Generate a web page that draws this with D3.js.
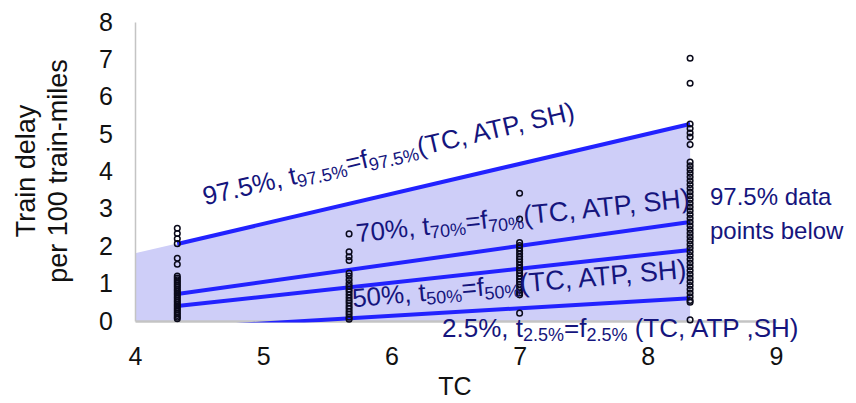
<!DOCTYPE html>
<html>
<head>
<meta charset="utf-8">
<script src="https://cdn.jsdelivr.net/npm/d3@7"></script>
<style>
  body { margin: 0; background: #fff; }
  svg { display: block; font-family: "Liberation Sans", Arial, sans-serif; }
</style>
</head>
<body>
<svg id="chart" width="856" height="403"></svg>
<script>
// TC value of each column of observations
var tcValues = [4.33, 5.67, 7.0, 8.33];

var delaysCol1 = [2.48, 2.34, 2.2, 2.07, 1.68, 1.52, 1.2, 1.15, 1.1, 1.05, 1.0, 0.95, 0.9, 0.85, 0.8, 0.75, 0.7, 0.65, 0.6, 0.55, 0.5, 0.45, 0.4, 0.35, 0.3, 0.25, 0.2, 0.15, 0.1, 0.06];
var delaysCol2 = [2.33, 1.85, 1.72, 1.62, 1.28, 1.2, 1.1, 1.0, 0.92, 0.85, 0.78, 0.7, 0.62, 0.55, 0.48, 0.4, 0.33, 0.25, 0.18, 0.1, 0.05];
var delaysCol3 = [3.42, 2.73, 2.1, 2.02, 1.95, 1.88, 1.8, 1.72, 1.65, 1.58, 1.5, 1.42, 1.35, 1.28, 1.2, 1.12, 1.05, 0.98, 0.9, 0.82, 0.75, 0.7, 0.21];
var delaysCol4 = [7.03, 6.36, 5.27, 5.15, 5.03, 4.92, 4.72, 4.25, 4.15, 4.05, 3.95, 3.85, 3.75, 3.65, 3.55, 3.45, 3.35, 3.25, 3.15, 3.05, 2.95, 2.85, 2.75, 2.65, 2.55, 2.45, 2.35, 2.25, 2.15, 2.05, 1.95, 1.85, 1.75, 1.65, 1.55, 1.45, 1.35, 1.25, 1.15, 1.05, 0.95, 0.85, 0.75, 0.65, 0.55, 0.5, 0.03];

// fitted quantile lines, value at first and last TC column
var quantiles = ["97.5%", "70%", "50%", "2.5%"];
var quantileStart = [2.06, 0.72, 0.40, -0.2];
var quantileEnd = [5.27, 2.65, 1.90, 0.61];

// shaded band under the 97.5% line
var shadeTC = [4, 8.33];
var shadeTop = [1.81, 5.27];

var xTicks = [4, 5, 6, 7, 8, 9];
var yTicks = [0, 1, 2, 3, 4, 5, 6, 7, 8];

var svg = d3.select("#chart");
var x = d3.scaleLinear().domain([4, 9]).range([135, 776]);
var y = d3.scaleLinear().domain([0, 8]).range([321, 22]);

var navy = "#15157d";
var blue = "#2222ff";

// shaded area
var shadePts = [[shadeTC[0], 0], [shadeTC[0], shadeTop[0]], [shadeTC[1], shadeTop[1]], [shadeTC[1], 0]];
svg.append("path")
    .attr("d", d3.line().x(d => x(d[0])).y(d => y(d[1]))(shadePts) + "Z")
    .attr("fill", "#ceceF8");

// axes
var gx = svg.append("g")
    .attr("transform", `translate(0,${y(0)})`)
    .call(d3.axisBottom(x).tickValues(xTicks).tickFormat(d3.format("d")).tickSize(0).tickSizeOuter(0).tickPadding(26));
var gy = svg.append("g")
    .attr("transform", `translate(${x(4)},0)`)
    .call(d3.axisLeft(y).tickValues(yTicks).tickFormat(d3.format("d")).tickSize(0).tickSizeOuter(0).tickPadding(22));
gx.select(".domain").attr("stroke", "#c4c4c4").attr("stroke-width", 2.5);
gy.select(".domain").attr("stroke", "#c4c4c4").attr("stroke-width", 1.5);
svg.selectAll(".tick text")
    .attr("font-size", 25)
    .attr("font-family", "Liberation Sans, Arial, sans-serif")
    .attr("fill", "#111");

// quantile lines, clipped at the plot floor
svg.append("clipPath").attr("id", "plotclip")
  .append("rect")
    .attr("x", x(4)).attr("y", y(8))
    .attr("width", x(9) - x(4)).attr("height", y(0) - y(8) + 1.5);

var lineData = quantiles.map((q, i) => [[tcValues[0], quantileStart[i]], [tcValues[3], quantileEnd[i]]]);
svg.append("g").attr("clip-path", "url(#plotclip)")
  .selectAll("path")
  .data(lineData)
  .enter().append("path")
    .attr("d", d3.line().x(d => x(d[0])).y(d => y(d[1])))
    .attr("stroke", blue)
    .attr("stroke-width", 4)
    .attr("fill", "none");

// observations
var cols = [delaysCol1, delaysCol2, delaysCol3, delaysCol4];
var points = [];
cols.forEach((c, i) => c.forEach(v => points.push({tc: tcValues[i], v: v})));
svg.append("g")
  .selectAll("circle")
  .data(points)
  .enter().append("circle")
    .attr("cx", d => x(d.tc))
    .attr("cy", d => y(d.v))
    .attr("r", 2.8)
    .attr("fill", "none")
    .attr("stroke", "#0a0a1a")
    .attr("stroke-width", 1.5);

// labels with subscripts
function richLabel(px, py, angle, parts) {
  var t = svg.append("text")
      .attr("transform", `translate(${px},${py}) rotate(${angle})`)
      .attr("fill", navy);
  parts.forEach(p => {
    var s = t.append("tspan").text(p[0]).attr("font-size", p[1]);
    if (p[2]) s.attr("baseline-shift", "-20%");
  });
}

richLabel(x(4.546), y(3.10), -13, [["97.5%, t", 26], ["97.5%", 18, 1], ["=f", 26], ["97.5%", 18, 1], ["(TC, ATP, SH)", 26]]);
richLabel(x(5.732), y(2.11), -6, [["70%, t", 26], ["70%", 18, 1], ["=f", 26], ["70%", 18, 1], ["(TC, ATP, SH)", 27]]);
richLabel(x(5.70), y(0.37), -5, [["50%, t", 26], ["50%", 18, 1], ["=f", 26], ["50%", 18, 1], ["(TC, ATP, SH)", 27]]);
richLabel(x(6.395), y(-0.43), 0, [["2.5%, t", 26], ["2.5%", 18, 1], ["=f", 26], ["2.5%", 18, 1], [" (TC, ATP ,SH)", 26]]);

svg.append("text")
    .attr("x", x(8.485)).attr("y", y(3.1))
    .attr("fill", navy).attr("font-size", 24)
    .text("97.5% data");
svg.append("text")
    .attr("x", x(8.485)).attr("y", y(2.2))
    .attr("fill", navy).attr("font-size", 24)
    .text("points below");

// axis titles
svg.append("text")
    .attr("x", 455).attr("y", 395)
    .attr("text-anchor", "middle")
    .attr("font-size", 25).attr("fill", "#111")
    .text("TC");
var yt = svg.append("text")
    .attr("transform", "translate(35,171) rotate(-90)")
    .attr("text-anchor", "middle")
    .attr("font-size", 27).attr("fill", "#111");
yt.append("tspan").attr("x", 0).attr("dy", 0).text("Train delay");
yt.append("tspan").attr("x", 0).attr("dy", 32).text("per 100 train-miles");
</script>
</body>
</html>
